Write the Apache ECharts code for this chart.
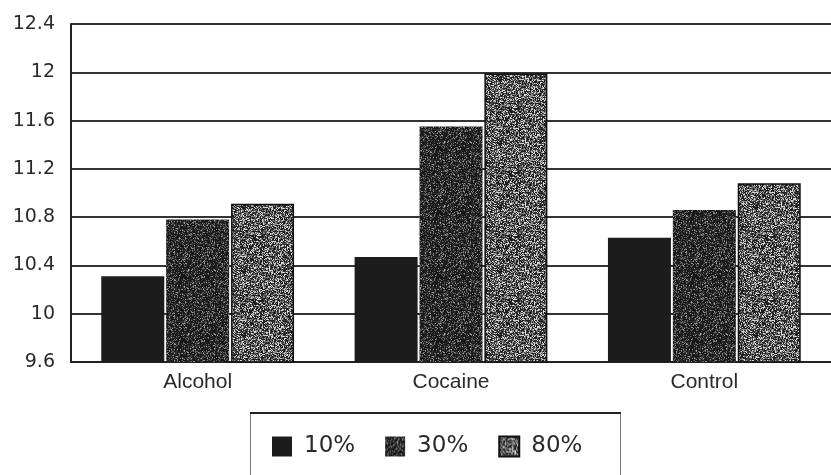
<!DOCTYPE html>
<html>
<head>
<meta charset="utf-8">
<script src="https://cdn.jsdelivr.net/npm/echarts@6/dist/echarts.min.js"></script>
<style>
  html, body { margin: 0; padding: 0; background: #fff; }
  #chart { width: 831px; height: 475px; }
</style>
</head>
<body>
<div id="chart"></div>
<script>
// Groups along the x axis and the three concentration series
const categories = ['Alcohol', 'Cocaine', 'Control'];
const seriesNames = ['10%', '30%', '80%'];
const values10 = [10.31, 10.47, 10.63];
const values30 = [10.78, 11.55, 10.86];
const values80 = [10.91, 11.99, 11.08];
const yTicks = [9.6, 10, 10.4, 10.8, 11.2, 11.6, 12, 12.4];

// Deterministic speckle texture for the shaded bars
function hash(i) {
  let x = (i * 2654435761) >>> 0;
  x ^= x >>> 13; x = Math.imul(x, 1274126177) >>> 0; x ^= x >>> 16;
  return (x >>> 0) / 4294967296;
}
function speckle(palette, weights, seed) {
  const size = 64;
  const c = document.createElement('canvas');
  c.width = size; c.height = size;
  const ctx = c.getContext('2d');
  for (let y = 0; y < size; y++) {
    for (let x = 0; x < size; x++) {
      const r = hash(seed + y * size + x);
      let acc = 0, k = 0;
      for (; k < weights.length - 1; k++) { acc += weights[k]; if (r < acc) break; }
      ctx.fillStyle = palette[k];
      ctx.fillRect(x, y, 1, 1);
    }
  }
  return c;
}
const tex30 = speckle(['#181818', '#363636', '#666666', '#969696'], [0.52, 0.25, 0.16, 0.07], 1000);
const tex80 = speckle(['#1e1e1e', '#4c4c4c', '#888888', '#d4d4d4'], [0.34, 0.25, 0.22, 0.19], 90000);

const chart = echarts.init(document.getElementById('chart'), null, { renderer: 'canvas' });

const labelFont = 'DejaVu Sans';

chart.setOption({
  animation: false,
  backgroundColor: '#ffffff',
  grid: { left: 71, right: 0, top: 24, bottom: 113 },
  xAxis: {
    type: 'category',
    data: categories,
    axisTick: { show: false },
    axisLine: { show: true, lineStyle: { color: '#222', width: 2 } },
    axisLabel: {
      color: '#2a2a2a', fontFamily: 'Liberation Sans', fontSize: 21, margin: 10
    }
  },
  yAxis: {
    type: 'value',
    min: yTicks[0],
    max: yTicks[yTicks.length - 1],
    interval: 0.4,
    axisLine: { show: true, lineStyle: { color: '#222', width: 2 } },
    axisTick: { show: false },
    splitLine: { show: true, lineStyle: { color: '#333', width: 2 } },
    axisLabel: {
      color: '#2a2a2a', fontFamily: labelFont, fontSize: 19, margin: 16,
      formatter: v => String(+v.toFixed(1))
    }
  },
  legend: {
    data: seriesNames,
    left: 272,
    top: 435,
    itemWidth: 20,
    itemHeight: 20,
    itemGap: 30,
    padding: 0,
    icon: 'rect',
    textStyle: {
      color: '#2a2a2a', fontFamily: labelFont, fontSize: 23,
      padding: [0, 0, 0, 7]
    }
  },
  graphic: [
    {
      type: 'rect',
      shape: { x: 250.5, y: 413, width: 370, height: 80 },
      style: { fill: 'none', stroke: '#777', lineWidth: 1 },
      z: -1
    },
    {
      type: 'line',
      shape: { x1: 250, y1: 413, x2: 621, y2: 413 },
      style: { stroke: '#222', lineWidth: 2 },
      z: -1
    }
  ],
  series: [
    {
      name: seriesNames[0], type: 'bar', data: values10,
      barWidth: 63, barGap: '3%',
      itemStyle: { color: '#1c1c1c', borderWidth: 0 }
    },
    {
      name: seriesNames[1], type: 'bar', data: values30,
      barWidth: 63, barGap: '3%',
      itemStyle: {
        color: { image: tex30, repeat: 'repeat' },
        borderWidth: 0
      }
    },
    {
      name: seriesNames[2], type: 'bar', data: values80,
      barWidth: 63, barGap: '3%',
      itemStyle: {
        color: { image: tex80, repeat: 'repeat' },
        borderColor: '#111', borderWidth: 1.5
      }
    }
  ]
});
</script>
</body>
</html>
